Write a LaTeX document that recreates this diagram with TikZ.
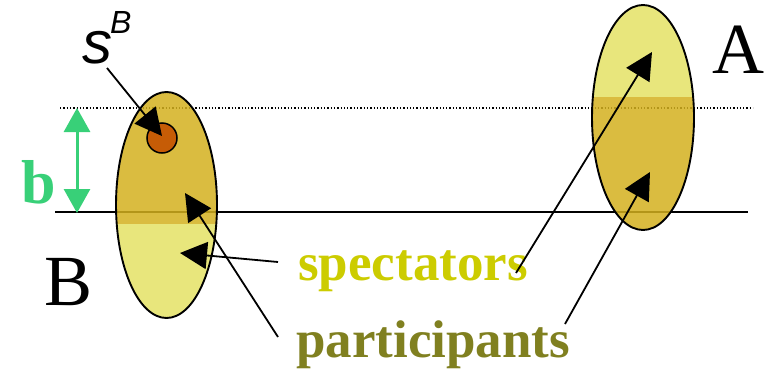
\documentclass[tikz,border=0pt]{standalone}
\usepackage{fontspec}
\setmainfont{Liberation Serif}
\newfontfamily\sansit{Liberation Sans}
\usetikzlibrary{arrows.meta}
\definecolor{darkfill}{RGB}{211,176,30}
\definecolor{lightfill}{RGB}{228,226,101}
\definecolor{dotc}{RGB}{198,92,6}
\definecolor{specc}{RGB}{204,204,0}
\definecolor{partc}{RGB}{128,128,32}
\definecolor{greenc}{RGB}{56,208,120}
\tikzset{
  ptr/.style={draw=black, line width=1.8pt, -{Triangle[length=27pt,width=27pt]}},
  garrow/.style={draw=greenc, line width=3pt, {Triangle[length=24pt,width=26pt]}-{Triangle[length=24pt,width=26pt]}},
  lbl/.style={inner sep=0pt, anchor=base west},
}
\begin{document}
\begin{tikzpicture}[x=1pt,y=-1pt]
\useasboundingbox (0,0) rectangle (767,372);
% horizontal lines
\draw[dotted, line width=1.3pt] (60,108) -- (753,108);
\draw[line width=1.6pt] (55,212) -- (748,212);
% ellipse B
\begin{scope}
  \clip (166.5,205) ellipse [x radius=50.5, y radius=113];
  \fill[darkfill, fill opacity=0.85] (100,80) rectangle (230,224);
  \fill[lightfill, fill opacity=0.85] (100,224) rectangle (230,330);
\end{scope}
\draw[line width=1.9pt] (166.5,205) ellipse [x radius=50.5, y radius=113];
% ellipse A
\begin{scope}
  \clip (643,117.5) ellipse [x radius=51, y radius=112.5];
  \fill[lightfill, fill opacity=0.85] (580,0) rectangle (710,97);
  \fill[darkfill, fill opacity=0.85] (580,97) rectangle (710,240);
\end{scope}
\draw[line width=1.9pt] (643,117.5) ellipse [x radius=51, y radius=112.5];
% small circle
\node[circle, draw=black, line width=1.5pt, fill=dotc, minimum size=30pt, inner sep=0pt] (dot) at (162,138) {};
\coordinate (dotc) at (162,136);
% labels
\node[lbl, font=\fontsize{72}{72}\selectfont] (A) at (712,73) {A};
\node[lbl, font=\fontsize{72}{72}\selectfont] (B) at (44,305) {B};
\node[lbl, font=\fontsize{62}{62}\selectfont\bfseries, text=greenc] (b) at (21,203) {b};
\node[lbl, font=\fontsize{60}{60}\selectfont\sansit\itshape] (s) at (82,63) {s};
\node[lbl, font=\fontsize{32}{32}\selectfont\sansit\itshape] (sB) at (110,33) {B};
\node[lbl, font=\fontsize{53}{53}\selectfont\bfseries, text=specc] (spec) at (298,280) {spectators};
\node[lbl, font=\fontsize{53}{53}\selectfont\bfseries, text=partc] (part) at (296,357) {participants};
% arrow start/end points
\coordinate (sfrom) at (107,68);
\coordinate (specB) at (278,262);
\coordinate (specBtip) at (180,253);
\coordinate (partB) at (278,337);
\coordinate (partBtip) at (185,193);
\coordinate (specA) at (516,273);
\coordinate (specAtip) at (652,52);
\coordinate (partA) at (565,324);
\coordinate (partAtip) at (650,172);
\coordinate (gtop) at (77,108);
\coordinate (gbot) at (77,213);
% arrows
\draw[garrow] (gtop) -- (gbot);
\draw[ptr] (sfrom) -- (dotc);
\draw[ptr] (specB) -- (specBtip);
\draw[ptr] (partB) -- (partBtip);
\draw[ptr] (specA) -- (specAtip);
\draw[ptr] (partA) -- (partAtip);
\end{tikzpicture}
\end{document}
